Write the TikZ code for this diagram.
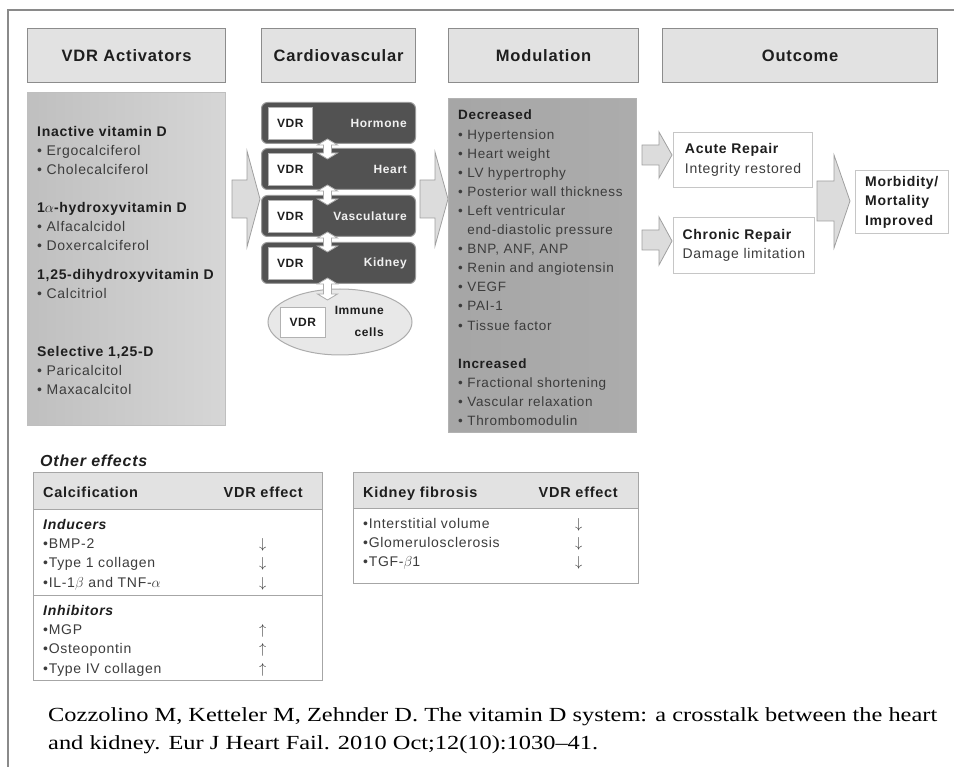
\documentclass[tikz,border=0pt]{standalone}
\usepackage{fontspec}
\setmainfont{Liberation Sans}[LetterSpace=5]
\newfontfamily\citefont{Liberation Serif}[FakeStretch=1.22]
\usetikzlibrary{shapes}

\definecolor{framegray}{HTML}{8A8A8A}
\definecolor{hdrfill}{HTML}{E2E2E2}
\definecolor{hdrline}{HTML}{8C8C8C}
\definecolor{cardfill}{HTML}{525252}
\definecolor{cardline}{HTML}{9A9A9A}
\definecolor{bodytext}{HTML}{3C3C3C}
\definecolor{titletext}{HTML}{1E1E1E}
\definecolor{arrowfill}{HTML}{DCDCDC}
\definecolor{arrowline}{HTML}{A0A0A0}

\newcommand{\grouptitle}[1]{\textcolor{titletext}{\textbf{#1}}}

\tikzset{
  header/.style={draw=hdrline, fill=hdrfill, line width=1.2pt, anchor=north west,
    minimum height=54, inner sep=0, text=titletext,
    font=\fontsize{16.5}{20}\selectfont\bfseries},
  actbox/.style={draw=gray!50, line width=0.8pt, anchor=north west, inner sep=0,
    left color=gray!50, middle color=gray!8, right color=gray!32},
  modbox/.style={draw=gray!60, line width=0.8pt, anchor=north west, inner sep=0,
    left color=gray!70, middle color=gray!18, right color=gray!65},
  listtext/.style={anchor=north west, align=left, inner sep=0, text=bodytext,
    font=\fontsize{14}{19}\selectfont},
  cardbox/.style={draw=cardline, fill=cardfill, rounded corners=6pt, line width=1pt,
    anchor=north west, minimum width=154, minimum height=41},
  vdrbox/.style={draw=gray!60, fill=white, line width=0.8pt, minimum width=44,
    minimum height=32, inner sep=0, text=titletext,
    font=\fontsize{12}{14}\selectfont\bfseries},
  cardlabel/.style={anchor=east, inner sep=0, text=gray!12,
    font=\fontsize{12}{14}\selectfont\bfseries},
  vlink/.style={draw=gray!65, fill=white, line width=0.8pt},
  bigarrow/.style={draw=arrowline, fill=arrowfill, line width=0.8pt},
  outbox/.style={draw=gray!45, fill=white, line width=1.2pt, anchor=north west,
    align=left, inner xsep=9, text=bodytext, font=\fontsize{14}{19.5}\selectfont},
  tabhead/.style={draw=gray!70, fill=hdrfill, line width=1pt, anchor=north west, inner sep=0},
  tabcell/.style={draw=gray!70, fill=white, line width=1pt, anchor=north west, inner sep=0},
  tabtitle/.style={inner sep=0, text=titletext, font=\fontsize{14.5}{17}\selectfont\bfseries},
  tabtext/.style={anchor=north west, inner sep=0, text=bodytext, align=left,
    font=\fontsize{14}{19.3}\selectfont}
}

\begin{document}
\begin{tikzpicture}[x=1pt, y=-1pt]
\useasboundingbox (0,0) rectangle (954,767);
\draw[framegray, line width=1.5pt] (954,10) -- (8,10) -- (8,767);

% column headers
\node[header, minimum width=198] (hdract) at (27,28) {VDR Activators};
\node[header, minimum width=154] (hdrcard) at (261,28) {Cardiovascular};
\node[header, minimum width=190] (hdrmod) at (448,28) {Modulation};
\node[header, minimum width=275] (hdrout) at (662,28) {Outcome};

% VDR activators
\node[actbox, minimum width=198, minimum height=333] (act) at (27,92) {};
\node[listtext] (actlist) at (37,126) {%
  \grouptitle{Inactive vitamin D}\\
  \textbullet\ Ergocalciferol\\
  \textbullet\ Cholecalciferol\\[19pt]
  \grouptitle{1$\alpha$-hydroxyvitamin D}\\
  \textbullet\ Alfacalcidol\\
  \textbullet\ Doxercalciferol\\[10pt]
  \grouptitle{1,25-dihydroxyvitamin D}\\
  \textbullet\ Calcitriol\\[39pt]
  \grouptitle{Selective 1,25-D}\\
  \textbullet\ Paricalcitol\\
  \textbullet\ Maxacalcitol};

% cardiovascular stack
\node[cardbox] (hormone) at (261,102) {};
\node[cardbox] (heart) at (261,148) {};
\node[cardbox] (vasc) at (261,195) {};
\node[cardbox] (kidney) at (261,242) {};
\node[vdrbox, anchor=west] (vdrhormone) at ([xshift=7pt]hormone.west) {VDR};
\node[vdrbox, anchor=west] (vdrheart) at ([xshift=7pt]heart.west) {VDR};
\node[vdrbox, anchor=west] (vdrvasc) at ([xshift=7pt]vasc.west) {VDR};
\node[vdrbox, anchor=west] (vdrkidney) at ([xshift=7pt]kidney.west) {VDR};
\node[cardlabel] (lblhormone) at ([xshift=-9pt]hormone.east) {Hormone};
\node[cardlabel] (lblheart) at ([xshift=-9pt]heart.east) {Heart};
\node[cardlabel] (lblvasc) at ([xshift=-9pt]vasc.east) {Vasculature};
\node[cardlabel] (lblkidney) at ([xshift=-9pt]kidney.east) {Kidney};
\node[ellipse, draw=gray!65, fill=gray!18, line width=1pt, minimum width=144,
  minimum height=66, inner sep=0] (immune) at (340,322) {};
\node[vdrbox, anchor=west, minimum width=45, minimum height=30] (vdrimmune) at (280,322) {VDR};
\node[anchor=east, align=right, inner sep=0, text=titletext,
  font=\fontsize{12}{22}\selectfont\bfseries] (lblimmune) at (384,321) {Immune\\cells};
\draw[vlink, shift={([xshift=-11pt]hormone.south)}] (0,-5) -- (10,1) -- (4,1) -- (4,9)
  -- (10,9) -- (0,15) -- (-10,9) -- (-4,9) -- (-4,1) -- (-10,1) -- cycle;
\draw[vlink, shift={([xshift=-11pt]heart.south)}] (0,-5) -- (10,1) -- (4,1) -- (4,9)
  -- (10,9) -- (0,15) -- (-10,9) -- (-4,9) -- (-4,1) -- (-10,1) -- cycle;
\draw[vlink, shift={([xshift=-11pt]vasc.south)}] (0,-5) -- (10,1) -- (4,1) -- (4,9)
  -- (10,9) -- (0,15) -- (-10,9) -- (-4,9) -- (-4,1) -- (-10,1) -- cycle;
\draw[vlink, shift={([xshift=-11pt]kidney.south)}] (0,-6) -- (10,0) -- (4,0) -- (4,10)
  -- (10,10) -- (0,16) -- (-10,10) -- (-4,10) -- (-4,0) -- (-10,0) -- cycle;

% block arrows
\draw[bigarrow] (232,180) -- (247,180) -- (247,151) -- (260,199) -- (247,247) -- (247,218) -- (232,218) -- cycle;
\draw[bigarrow] (420,180) -- (435,180) -- (435,152) -- (448,199) -- (435,246) -- (435,218) -- (420,218) -- cycle;
\draw[bigarrow] (642,145) -- (659,145) -- (659,132) -- (672,155) -- (659,178) -- (659,165) -- (642,165) -- cycle;
\draw[bigarrow] (642,230) -- (659,230) -- (659,217) -- (672,241) -- (659,265) -- (659,250) -- (642,250) -- cycle;
\draw[bigarrow] (817,181) -- (834,181) -- (834,155) -- (850,201) -- (834,248) -- (834,221) -- (817,221) -- cycle;

% modulation
\node[modbox, minimum width=188, minimum height=334] (mod) at (448,98) {};
\node[listtext, font=\fontsize{13.5}{19.1}\selectfont] (modlist) at (458,110) {%
  \grouptitle{Decreased}\\
  \textbullet\ Hypertension\\
  \textbullet\ Heart weight\\
  \textbullet\ LV hypertrophy\\
  \textbullet\ Posterior wall thickness\\
  \textbullet\ Left ventricular\\
  \phantom{\textbullet\ }end-diastolic pressure\\
  \textbullet\ BNP, ANF, ANP\\
  \textbullet\ Renin and angiotensin\\
  \textbullet\ VEGF\\
  \textbullet\ PAI-1\\
  \textbullet\ Tissue factor\\[19pt]
  \grouptitle{Increased}\\
  \textbullet\ Fractional shortening\\
  \textbullet\ Vascular relaxation\\
  \textbullet\ Thrombomodulin};

% outcome
\node[outbox, minimum width=139, minimum height=55] (acute) at (673,132)
  {\grouptitle{Acute Repair}\\Integrity restored};
\node[outbox, minimum width=139, minimum height=56] (chronic) at (673,217)
  {\grouptitle{Chronic Repair}\\Damage limitation};
\node[outbox, minimum width=93, minimum height=63] (morbid) at (855,170)
  {\grouptitle{Morbidity/}\\\grouptitle{Mortality}\\\grouptitle{Improved}};

% other effects
\node[anchor=base west, inner sep=0, text=titletext,
  font=\fontsize{16}{19}\selectfont\bfseries\itshape] (other) at (40,467) {Other effects};
\node[tabhead, minimum width=289, minimum height=37] (calchead) at (33,472) {};
\node[tabcell, minimum width=289, minimum height=86] (inducers) at (33,509) {};
\node[tabcell, minimum width=289, minimum height=85] (inhibitors) at (33,595) {};
\node[tabtitle, anchor=base west] (calctitle) at (43,497) {Calcification};
\node[tabtitle, anchor=base east] (calceffect) at (303,497) {VDR effect};
\node[tabtext] (inducerlist) at (43,519) {%
  \grouptitle{\itshape Inducers}\\
  \makebox[216pt][l]{\textbullet BMP-2}$\downarrow$\\
  \makebox[216pt][l]{\textbullet Type 1 collagen}$\downarrow$\\
  \makebox[216pt][l]{\textbullet IL-1$\beta$ and TNF-$\alpha$}$\downarrow$};
\node[tabtext] (inhibitorlist) at (43,605) {%
  \grouptitle{\itshape Inhibitors}\\
  \makebox[216pt][l]{\textbullet MGP}$\uparrow$\\
  \makebox[216pt][l]{\textbullet Osteopontin}$\uparrow$\\
  \makebox[216pt][l]{\textbullet Type IV collagen}$\uparrow$};

\node[tabhead, minimum width=285, minimum height=36] (kidhead) at (353,472) {};
\node[tabcell, minimum width=285, minimum height=75] (kidbody) at (353,508) {};
\node[tabtitle, anchor=base west] (kidtitle) at (363,497) {Kidney fibrosis};
\node[tabtitle, anchor=base east] (kideffect) at (618,497) {VDR effect};
\node[tabtext] (kidlist) at (363,518) {%
  \makebox[212pt][l]{\textbullet Interstitial volume}$\downarrow$\\
  \makebox[212pt][l]{\textbullet Glomerulosclerosis}$\downarrow$\\
  \makebox[212pt][l]{\textbullet TGF-$\beta$1}$\downarrow$};

% citation
\node[anchor=base west, inner sep=0, font=\citefont\fontsize{20}{28}\selectfont] (cite1) at (48,721)
  {Cozzolino M, Ketteler M, Zehnder D. The vitamin D system: a crosstalk between the heart};
\node[anchor=base west, inner sep=0, font=\citefont\fontsize{20}{28}\selectfont] (cite2) at (48,749)
  {and kidney. Eur J Heart Fail. 2010 Oct;12(10):1030\textendash 41.};
\end{tikzpicture}
\end{document}
